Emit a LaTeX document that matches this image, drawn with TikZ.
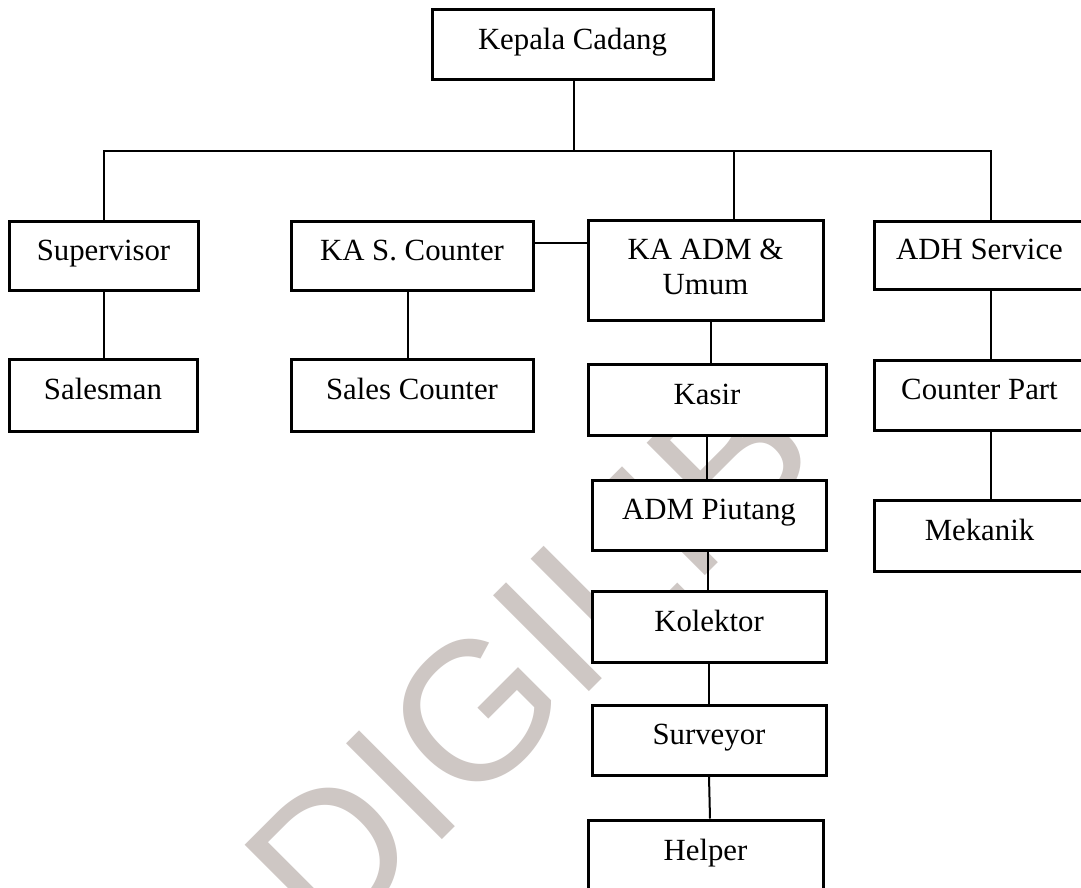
\documentclass[tikz,border=0pt]{standalone}
\usepackage{fontspec}
\setmainfont{Liberation Serif}
\newfontfamily\wmfont{Liberation Sans}
\definecolor{wmgray}{RGB}{206,199,196}
\begin{document}
\begin{tikzpicture}[x=1pt,y=-1pt,
  orgbox/.style={draw=black, line width=3pt, fill=white, rectangle, inner sep=0pt,
    font=\fontsize{30.8}{35}\selectfont, text height=22pt, text depth=13pt},
  orgbox2/.style={draw=black, line width=3pt, fill=white, rectangle, inner sep=0pt,
    font=\fontsize{30.8}{35}\selectfont, align=center},
  link/.style={draw=black, line width=2pt},
  watermark/.style={text=wmgray, font=\wmfont\fontsize{197}{200}\selectfont,
    rotate=45, inner sep=0pt, text height=141pt, text depth=0pt}]
\useasboundingbox (0,0) rectangle (1081,888);
\clip (0,0) rectangle (1081,888);
\fill[white] (0,0) rectangle (1081,888);
% watermark
\node[watermark] (wm) at (527,655) {DIGILIB};
% columns
\coordinate (cA) at (104,0);
\coordinate (cB) at (408,0);
\coordinate (cK) at (574,0);
\coordinate (cC) at (734,0);
\coordinate (cD) at (991,0);
\coordinate (c711) at (711,0);
\coordinate (c707) at (707,0);
\coordinate (c708) at (708,0);
\coordinate (c709) at (709,0);
\coordinate (c710) at (710,0);
\coordinate (rowY) at (0,151);
\coordinate (rowS) at (0,243);
% boxes
\node[orgbox, minimum width=281pt, minimum height=70pt] (kepala) at (572.5,45) {Kepala Cadang};
\node[orgbox, minimum width=189pt, minimum height=69pt] (sup) at (103.5,255.5) {Supervisor};
\node[orgbox, minimum width=188pt, minimum height=72pt] (salesman) at (103,395) {Salesman};
\node[orgbox, minimum width=242pt, minimum height=69pt] (kas) at (412,255.5) {KA S. Counter};
\node[orgbox, minimum width=242pt, minimum height=72pt] (salesc) at (412,395) {Sales Counter};
\node[orgbox2, minimum width=235pt, minimum height=100pt] (kaadm) at (705.5,270) {\raisebox{3pt}{\begin{tabular}{@{}c@{}}KA ADM \&\\[-0.8pt]Umum\end{tabular}}};
\node[orgbox, minimum width=238pt, minimum height=71pt] (kasir) at (707,399.5) {Kasir};
\node[orgbox, minimum width=234pt, minimum height=70pt] (piutang) at (709,515) {ADM Piutang};
\node[orgbox, minimum width=234pt, minimum height=71pt] (kolektor) at (709,626.5) {Kolektor};
\node[orgbox, minimum width=234pt, minimum height=70pt] (surveyor) at (709,740) {Surveyor};
\node[orgbox, minimum width=235pt, minimum height=72pt] (helper) at (705.5,856) {Helper};
\node[orgbox, minimum width=211pt, minimum height=68pt] (adh) at (979.5,255) {ADH Service};
\node[orgbox, minimum width=211pt, minimum height=70pt] (cpart) at (979.5,395) {Counter Part};
\node[orgbox, minimum width=211pt, minimum height=71pt] (mekanik) at (979.5,535.5) {Mekanik};
% connectors
\coordinate (hubK) at (cK |- rowY);
\coordinate (hubA) at (cA |- rowY);
\coordinate (hubC) at (cC |- rowY);
\coordinate (hubD) at (cD |- rowY);
\draw[link] (kepala.south -| cK) -- (hubK);
\draw[link, line cap=rect] (hubA) -- (hubD);
\draw[link] (hubA) -- (sup.north -| cA);
\draw[link] (hubC) -- (kaadm.north -| cC);
\draw[link] (hubD) -- (adh.north -| cD);
\draw[link] (sup.south -| cA) -- (salesman.north -| cA);
\draw[link] (kas.south -| cB) -- (salesc.north -| cB);
\draw[link] (kas.east |- rowS) -- (kaadm.west |- rowS);
\draw[link] (kaadm.south -| c711) -- (kasir.north -| c711);
\draw[link] (kasir.south -| c707) -- (piutang.north -| c707);
\draw[link] (piutang.south -| c708) -- (kolektor.north -| c708);
\draw[link] (kolektor.south -| c709) -- (surveyor.north -| c709);
\draw[link] (surveyor.south -| c709) -- (helper.north -| c710);
\draw[link] (adh.south -| cD) -- (cpart.north -| cD);
\draw[link] (cpart.south -| cD) -- (mekanik.north -| cD);
\end{tikzpicture}
\end{document}
